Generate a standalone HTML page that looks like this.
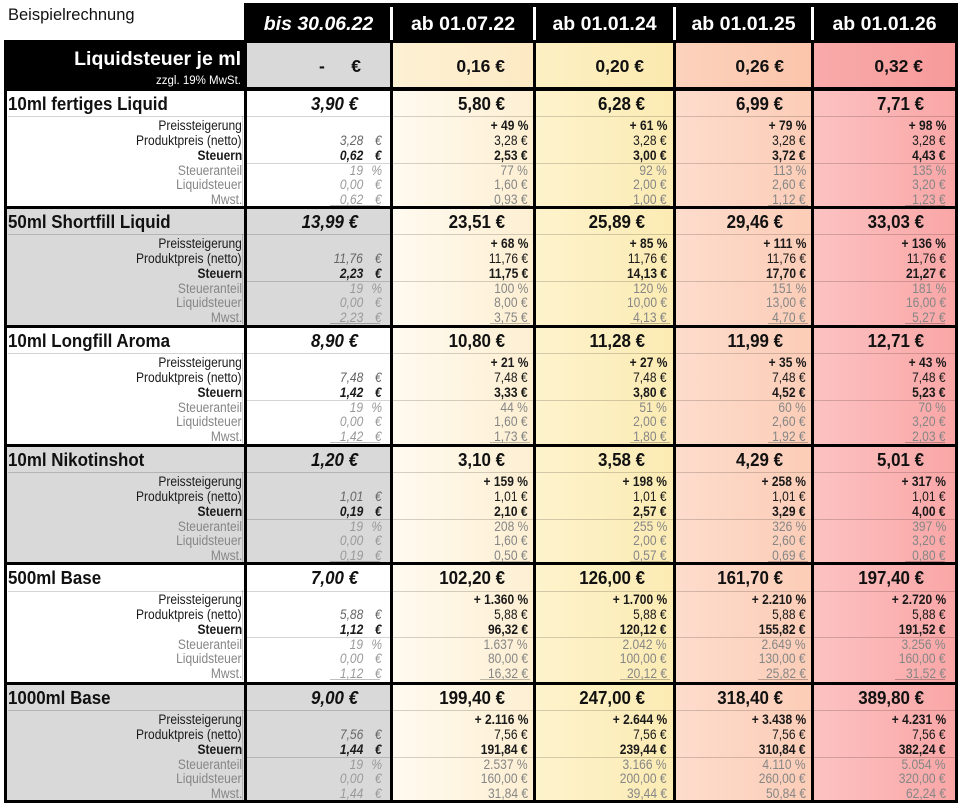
<!DOCTYPE html>
<html><head><meta charset="utf-8">
<style>
*{box-sizing:border-box}
body{margin:0;width:960px;height:808px;position:relative;background:#fff;font-family:"Liberation Sans",Arial,sans-serif;overflow:hidden;color:#151515}
.a{position:absolute}
.k{position:absolute;background:#000}
.w{position:absolute;background:#fff}
.s{position:absolute;left:0;width:960px;height:119px}
.lb{position:absolute;left:7px;width:237px;top:0;height:119px}
.cb{position:absolute;left:247px;width:143px;top:0;height:119px}
.g{background:#d9d9d9}
.ln{position:absolute;height:1px;background:rgba(0,0,0,.17)}
.ul{position:absolute;height:1px;top:117px;background:rgba(0,0,0,.25)}
.vl{position:absolute;left:242px;top:28px;width:1px;height:90px;background:rgba(0,0,0,.18)}
.t{position:absolute;top:5px;height:23px;line-height:23px;font-size:18px;font-weight:bold;white-space:nowrap;color:#111;transform:scaleX(.94)}
.tl{left:8px;transform-origin:left center}
.t1,.t2,.t3,.t4,.t5{transform-origin:right center}
.t1{right:602px;font-style:italic}
.t2{right:455px}.t3{right:315px}.t4{right:177px}.t5{right:36px}
.r{position:absolute;left:0;width:960px;height:15px;line-height:15px;font-size:13.5px;white-space:nowrap;color:#1a1a1a}
.r span{position:absolute;top:0;transform:scaleX(.89);transform-origin:right center}
.y1{top:30px}.y2{top:45px}.y3{top:59.5px}.y4{top:74.5px}.y5{top:89px}.y6{top:104px}
.L{right:718px}
.n{right:597px;font-style:italic}
.e{right:578px;font-style:italic}
.v2{right:432px}.v3{right:293px}.v4{right:154px}.v5{right:14px}
.y1 .v,.y3 .v,.y3 .L,.y3 .n,.y3 .e{font-weight:bold}
.y4,.y5,.y6{color:#868686}
.y2 .n,.y2 .e{color:#666}
.y4 .n,.y4 .e,.y5 .n,.y5 .e,.y6 .n,.y6 .e{color:#9a9a9a}
.h{position:absolute;top:5px;height:39px;line-height:39px;color:#fff;font-weight:bold;font-size:19.5px;text-align:center;white-space:nowrap}
.lq{position:absolute;top:44px;height:44px;line-height:44px;font-size:17.5px;font-weight:bold;white-space:nowrap;color:#111}
</style></head><body>

<div class="a" style="left:8px;top:5px;font-size:16.5px;line-height:20px;color:#111">Beispielrechnung</div>

<!-- column backgrounds -->
<div class="a" style="left:393px;top:87px;width:140px;height:716px;background:linear-gradient(to right,#fffaf0,#fdefd2)"></div>
<div class="a" style="left:536px;top:87px;width:137px;height:716px;background:linear-gradient(to right,#fdf3cc,#fcebb3)"></div>
<div class="a" style="left:676px;top:87px;width:135px;height:716px;background:linear-gradient(to right,#fddccc,#fccdb7)"></div>
<div class="a" style="left:814px;top:87px;width:141px;height:716px;background:linear-gradient(to right,#fcc2c2,#faa6a6)"></div>

<!-- Liquidsteuer row -->
<div class="a" style="left:4px;top:40px;width:240px;height:50px;background:#000"></div>
<div class="a" style="left:247px;top:43px;width:143px;height:44px;background:#d9d9d9"></div>
<div class="a" style="left:393px;top:43px;width:140px;height:44px;background:linear-gradient(to right,#fdf1d4,#fdeac4)"></div>
<div class="a" style="left:536px;top:43px;width:137px;height:44px;background:linear-gradient(to right,#fcf0c4,#fbe9ae)"></div>
<div class="a" style="left:676px;top:43px;width:135px;height:44px;background:linear-gradient(to right,#fcd2bc,#fbc5ab)"></div>
<div class="a" style="left:814px;top:43px;width:141px;height:44px;background:linear-gradient(to right,#f9aaaa,#f79a9a)"></div>
<div class="a" style="right:719px;top:47px;height:24px;line-height:24px;font-size:19.5px;font-weight:bold;color:#fff;white-space:nowrap">Liquidsteuer je ml</div>
<div class="a" style="right:719px;top:74px;height:14px;line-height:14px;font-size:11.5px;color:#fff;white-space:nowrap">zzgl. 19% MwSt.</div>
<div class="lq" style="left:319px">-</div>
<div class="lq" style="right:599px">€</div>
<div class="lq" style="right:455px">0,16 €</div>
<div class="lq" style="right:316px">0,20 €</div>
<div class="lq" style="right:176px">0,26 €</div>
<div class="lq" style="right:37px">0,32 €</div>

<!-- Section 1 -->
<div class="s" style="top:88px">
<div class="ln" style="top:28px;left:8px;width:947px"></div>
<div class="ln" style="top:74.5px;left:247px;width:708px"></div>
<div class="ul" style="left:330px;width:50px"></div><div class="ul" style="left:490px;width:40px"></div><div class="ul" style="left:630px;width:40px"></div><div class="ul" style="left:768px;width:40px"></div><div class="ul" style="left:905px;width:40px"></div>
<div class="vl"></div>
<div class="t tl">10ml fertiges Liquid</div>
<div class="t t1">3,90 €</div><div class="t t2">5,80 €</div><div class="t t3">6,28 €</div><div class="t t4">6,99 €</div><div class="t t5">7,71 €</div>
<div class="r y1"><span class="L">Preissteigerung</span><span class="v v2">+ 49 %</span><span class="v v3">+ 61 %</span><span class="v v4">+ 79 %</span><span class="v v5">+ 98 %</span></div>
<div class="r y2"><span class="L">Produktpreis (netto)</span><span class="n">3,28</span><span class="e">€</span><span class="v v2">3,28 €</span><span class="v v3">3,28 €</span><span class="v v4">3,28 €</span><span class="v v5">3,28 €</span></div>
<div class="r y3"><span class="L">Steuern</span><span class="n">0,62</span><span class="e">€</span><span class="v v2">2,53 €</span><span class="v v3">3,00 €</span><span class="v v4">3,72 €</span><span class="v v5">4,43 €</span></div>
<div class="r y4"><span class="L">Steueranteil</span><span class="n">19</span><span class="e">%</span><span class="v v2">77 %</span><span class="v v3">92 %</span><span class="v v4">113 %</span><span class="v v5">135 %</span></div>
<div class="r y5"><span class="L">Liquidsteuer</span><span class="n">0,00</span><span class="e">€</span><span class="v v2">1,60 €</span><span class="v v3">2,00 €</span><span class="v v4">2,60 €</span><span class="v v5">3,20 €</span></div>
<div class="r y6"><span class="L">Mwst.</span><span class="n">0,62</span><span class="e">€</span><span class="v v2">0,93 €</span><span class="v v3">1,00 €</span><span class="v v4">1,12 €</span><span class="v v5">1,23 €</span></div>
</div>

<!-- Section 2 -->
<div class="s" style="top:206px">
<div class="lb g"></div><div class="cb g"></div>
<div class="ln" style="top:28px;left:8px;width:947px"></div>
<div class="ln" style="top:74.5px;left:247px;width:708px"></div>
<div class="ul" style="left:330px;width:50px"></div><div class="ul" style="left:490px;width:40px"></div><div class="ul" style="left:630px;width:40px"></div><div class="ul" style="left:768px;width:40px"></div><div class="ul" style="left:905px;width:40px"></div>
<div class="vl"></div>
<div class="t tl">50ml Shortfill Liquid</div>
<div class="t t1">13,99 €</div><div class="t t2">23,51 €</div><div class="t t3">25,89 €</div><div class="t t4">29,46 €</div><div class="t t5">33,03 €</div>
<div class="r y1"><span class="L">Preissteigerung</span><span class="v v2">+ 68 %</span><span class="v v3">+ 85 %</span><span class="v v4">+ 111 %</span><span class="v v5">+ 136 %</span></div>
<div class="r y2"><span class="L">Produktpreis (netto)</span><span class="n">11,76</span><span class="e">€</span><span class="v v2">11,76 €</span><span class="v v3">11,76 €</span><span class="v v4">11,76 €</span><span class="v v5">11,76 €</span></div>
<div class="r y3"><span class="L">Steuern</span><span class="n">2,23</span><span class="e">€</span><span class="v v2">11,75 €</span><span class="v v3">14,13 €</span><span class="v v4">17,70 €</span><span class="v v5">21,27 €</span></div>
<div class="r y4"><span class="L">Steueranteil</span><span class="n">19</span><span class="e">%</span><span class="v v2">100 %</span><span class="v v3">120 %</span><span class="v v4">151 %</span><span class="v v5">181 %</span></div>
<div class="r y5"><span class="L">Liquidsteuer</span><span class="n">0,00</span><span class="e">€</span><span class="v v2">8,00 €</span><span class="v v3">10,00 €</span><span class="v v4">13,00 €</span><span class="v v5">16,00 €</span></div>
<div class="r y6"><span class="L">Mwst.</span><span class="n">2,23</span><span class="e">€</span><span class="v v2">3,75 €</span><span class="v v3">4,13 €</span><span class="v v4">4,70 €</span><span class="v v5">5,27 €</span></div>
</div>

<!-- Section 3 -->
<div class="s" style="top:325px">
<div class="ln" style="top:28px;left:8px;width:947px"></div>
<div class="ln" style="top:74.5px;left:247px;width:708px"></div>
<div class="ul" style="left:330px;width:50px"></div><div class="ul" style="left:490px;width:40px"></div><div class="ul" style="left:630px;width:40px"></div><div class="ul" style="left:768px;width:40px"></div><div class="ul" style="left:905px;width:40px"></div>
<div class="vl"></div>
<div class="t tl">10ml Longfill Aroma</div>
<div class="t t1">8,90 €</div><div class="t t2">10,80 €</div><div class="t t3">11,28 €</div><div class="t t4">11,99 €</div><div class="t t5">12,71 €</div>
<div class="r y1"><span class="L">Preissteigerung</span><span class="v v2">+ 21 %</span><span class="v v3">+ 27 %</span><span class="v v4">+ 35 %</span><span class="v v5">+ 43 %</span></div>
<div class="r y2"><span class="L">Produktpreis (netto)</span><span class="n">7,48</span><span class="e">€</span><span class="v v2">7,48 €</span><span class="v v3">7,48 €</span><span class="v v4">7,48 €</span><span class="v v5">7,48 €</span></div>
<div class="r y3"><span class="L">Steuern</span><span class="n">1,42</span><span class="e">€</span><span class="v v2">3,33 €</span><span class="v v3">3,80 €</span><span class="v v4">4,52 €</span><span class="v v5">5,23 €</span></div>
<div class="r y4"><span class="L">Steueranteil</span><span class="n">19</span><span class="e">%</span><span class="v v2">44 %</span><span class="v v3">51 %</span><span class="v v4">60 %</span><span class="v v5">70 %</span></div>
<div class="r y5"><span class="L">Liquidsteuer</span><span class="n">0,00</span><span class="e">€</span><span class="v v2">1,60 €</span><span class="v v3">2,00 €</span><span class="v v4">2,60 €</span><span class="v v5">3,20 €</span></div>
<div class="r y6"><span class="L">Mwst.</span><span class="n">1,42</span><span class="e">€</span><span class="v v2">1,73 €</span><span class="v v3">1,80 €</span><span class="v v4">1,92 €</span><span class="v v5">2,03 €</span></div>
</div>

<!-- Section 4 -->
<div class="s" style="top:444px">
<div class="lb g"></div><div class="cb g"></div>
<div class="ln" style="top:28px;left:8px;width:947px"></div>
<div class="ln" style="top:74.5px;left:247px;width:708px"></div>
<div class="ul" style="left:330px;width:50px"></div><div class="ul" style="left:490px;width:40px"></div><div class="ul" style="left:630px;width:40px"></div><div class="ul" style="left:768px;width:40px"></div><div class="ul" style="left:905px;width:40px"></div>
<div class="vl"></div>
<div class="t tl">10ml Nikotinshot</div>
<div class="t t1">1,20 €</div><div class="t t2">3,10 €</div><div class="t t3">3,58 €</div><div class="t t4">4,29 €</div><div class="t t5">5,01 €</div>
<div class="r y1"><span class="L">Preissteigerung</span><span class="v v2">+ 159 %</span><span class="v v3">+ 198 %</span><span class="v v4">+ 258 %</span><span class="v v5">+ 317 %</span></div>
<div class="r y2"><span class="L">Produktpreis (netto)</span><span class="n">1,01</span><span class="e">€</span><span class="v v2">1,01 €</span><span class="v v3">1,01 €</span><span class="v v4">1,01 €</span><span class="v v5">1,01 €</span></div>
<div class="r y3"><span class="L">Steuern</span><span class="n">0,19</span><span class="e">€</span><span class="v v2">2,10 €</span><span class="v v3">2,57 €</span><span class="v v4">3,29 €</span><span class="v v5">4,00 €</span></div>
<div class="r y4"><span class="L">Steueranteil</span><span class="n">19</span><span class="e">%</span><span class="v v2">208 %</span><span class="v v3">255 %</span><span class="v v4">326 %</span><span class="v v5">397 %</span></div>
<div class="r y5"><span class="L">Liquidsteuer</span><span class="n">0,00</span><span class="e">€</span><span class="v v2">1,60 €</span><span class="v v3">2,00 €</span><span class="v v4">2,60 €</span><span class="v v5">3,20 €</span></div>
<div class="r y6"><span class="L">Mwst.</span><span class="n">0,19</span><span class="e">€</span><span class="v v2">0,50 €</span><span class="v v3">0,57 €</span><span class="v v4">0,69 €</span><span class="v v5">0,80 €</span></div>
</div>

<!-- Section 5 -->
<div class="s" style="top:562px">
<div class="ln" style="top:29px;left:8px;width:947px"></div>
<div class="ln" style="top:75px;left:247px;width:708px"></div>
<div class="ul" style="left:330px;width:50px"></div><div class="ul" style="left:480px;width:50px"></div><div class="ul" style="left:620px;width:50px"></div><div class="ul" style="left:758px;width:50px"></div><div class="ul" style="left:895px;width:50px"></div>
<div class="vl"></div>
<div class="t tl">500ml Base</div>
<div class="t t1">7,00 €</div><div class="t t2">102,20 €</div><div class="t t3">126,00 €</div><div class="t t4">161,70 €</div><div class="t t5">197,40 €</div>
<div class="r y1"><span class="L">Preissteigerung</span><span class="v v2">+ 1.360 %</span><span class="v v3">+ 1.700 %</span><span class="v v4">+ 2.210 %</span><span class="v v5">+ 2.720 %</span></div>
<div class="r y2"><span class="L">Produktpreis (netto)</span><span class="n">5,88</span><span class="e">€</span><span class="v v2">5,88 €</span><span class="v v3">5,88 €</span><span class="v v4">5,88 €</span><span class="v v5">5,88 €</span></div>
<div class="r y3"><span class="L">Steuern</span><span class="n">1,12</span><span class="e">€</span><span class="v v2">96,32 €</span><span class="v v3">120,12 €</span><span class="v v4">155,82 €</span><span class="v v5">191,52 €</span></div>
<div class="r y4"><span class="L">Steueranteil</span><span class="n">19</span><span class="e">%</span><span class="v v2">1.637 %</span><span class="v v3">2.042 %</span><span class="v v4">2.649 %</span><span class="v v5">3.256 %</span></div>
<div class="r y5"><span class="L">Liquidsteuer</span><span class="n">0,00</span><span class="e">€</span><span class="v v2">80,00 €</span><span class="v v3">100,00 €</span><span class="v v4">130,00 €</span><span class="v v5">160,00 €</span></div>
<div class="r y6"><span class="L">Mwst.</span><span class="n">1,12</span><span class="e">€</span><span class="v v2">16,32 €</span><span class="v v3">20,12 €</span><span class="v v4">25,82 €</span><span class="v v5">31,52 €</span></div>
</div>

<!-- Section 6 -->
<div class="s" style="top:682px">
<div class="lb g"></div><div class="cb g"></div>
<div class="ln" style="top:28px;left:8px;width:947px"></div>
<div class="ln" style="top:74.5px;left:247px;width:708px"></div>
<div class="vl"></div>
<div class="t tl">1000ml Base</div>
<div class="t t1">9,00 €</div><div class="t t2">199,40 €</div><div class="t t3">247,00 €</div><div class="t t4">318,40 €</div><div class="t t5">389,80 €</div>
<div class="r y1"><span class="L">Preissteigerung</span><span class="v v2">+ 2.116 %</span><span class="v v3">+ 2.644 %</span><span class="v v4">+ 3.438 %</span><span class="v v5">+ 4.231 %</span></div>
<div class="r y2"><span class="L">Produktpreis (netto)</span><span class="n">7,56</span><span class="e">€</span><span class="v v2">7,56 €</span><span class="v v3">7,56 €</span><span class="v v4">7,56 €</span><span class="v v5">7,56 €</span></div>
<div class="r y3"><span class="L">Steuern</span><span class="n">1,44</span><span class="e">€</span><span class="v v2">191,84 €</span><span class="v v3">239,44 €</span><span class="v v4">310,84 €</span><span class="v v5">382,24 €</span></div>
<div class="r y4"><span class="L">Steueranteil</span><span class="n">19</span><span class="e">%</span><span class="v v2">2.537 %</span><span class="v v3">3.166 %</span><span class="v v4">4.110 %</span><span class="v v5">5.054 %</span></div>
<div class="r y5"><span class="L">Liquidsteuer</span><span class="n">0,00</span><span class="e">€</span><span class="v v2">160,00 €</span><span class="v v3">200,00 €</span><span class="v v4">260,00 €</span><span class="v v5">320,00 €</span></div>
<div class="r y6"><span class="L">Mwst.</span><span class="n">1,44</span><span class="e">€</span><span class="v v2">31,84 €</span><span class="v v3">39,44 €</span><span class="v v4">50,84 €</span><span class="v v5">62,24 €</span></div>
</div>

<!-- header black bar -->
<div class="k" style="left:244px;top:3px;width:714px;height:40px"></div>
<div class="w" style="left:390px;top:7px;width:3px;height:33px"></div>
<div class="w" style="left:533px;top:7px;width:3px;height:33px"></div>
<div class="w" style="left:673px;top:7px;width:3px;height:33px"></div>
<div class="w" style="left:811px;top:7px;width:3px;height:33px"></div>
<div class="h" style="left:247px;width:143px;font-style:italic">bis 30.06.22</div>
<div class="h" style="left:393px;width:140px">ab 01.07.22</div>
<div class="h" style="left:536px;width:137px">ab 01.01.24</div>
<div class="h" style="left:676px;width:135px">ab 01.01.25</div>
<div class="h" style="left:814px;width:141px">ab 01.01.26</div>

<!-- vertical black lines -->
<div class="k" style="left:4px;top:40px;width:3px;height:763px"></div>
<div class="k" style="left:244px;top:3px;width:3px;height:800px"></div>
<div class="k" style="left:390px;top:43px;width:3px;height:760px"></div>
<div class="k" style="left:533px;top:43px;width:3px;height:760px"></div>
<div class="k" style="left:673px;top:43px;width:3px;height:760px"></div>
<div class="k" style="left:811px;top:43px;width:3px;height:760px"></div>
<div class="k" style="left:955px;top:3px;width:3px;height:800px"></div>

<!-- horizontal black lines -->
<div class="k" style="left:4px;top:87px;width:954px;height:4px"></div>
<div class="k" style="left:4px;top:206px;width:954px;height:3px"></div>
<div class="k" style="left:4px;top:325px;width:954px;height:3px"></div>
<div class="k" style="left:4px;top:444px;width:954px;height:3px"></div>
<div class="k" style="left:4px;top:562px;width:954px;height:3px"></div>
<div class="k" style="left:4px;top:682px;width:954px;height:3px"></div>
<div class="k" style="left:4px;top:800px;width:954px;height:3px"></div>

</body></html>
